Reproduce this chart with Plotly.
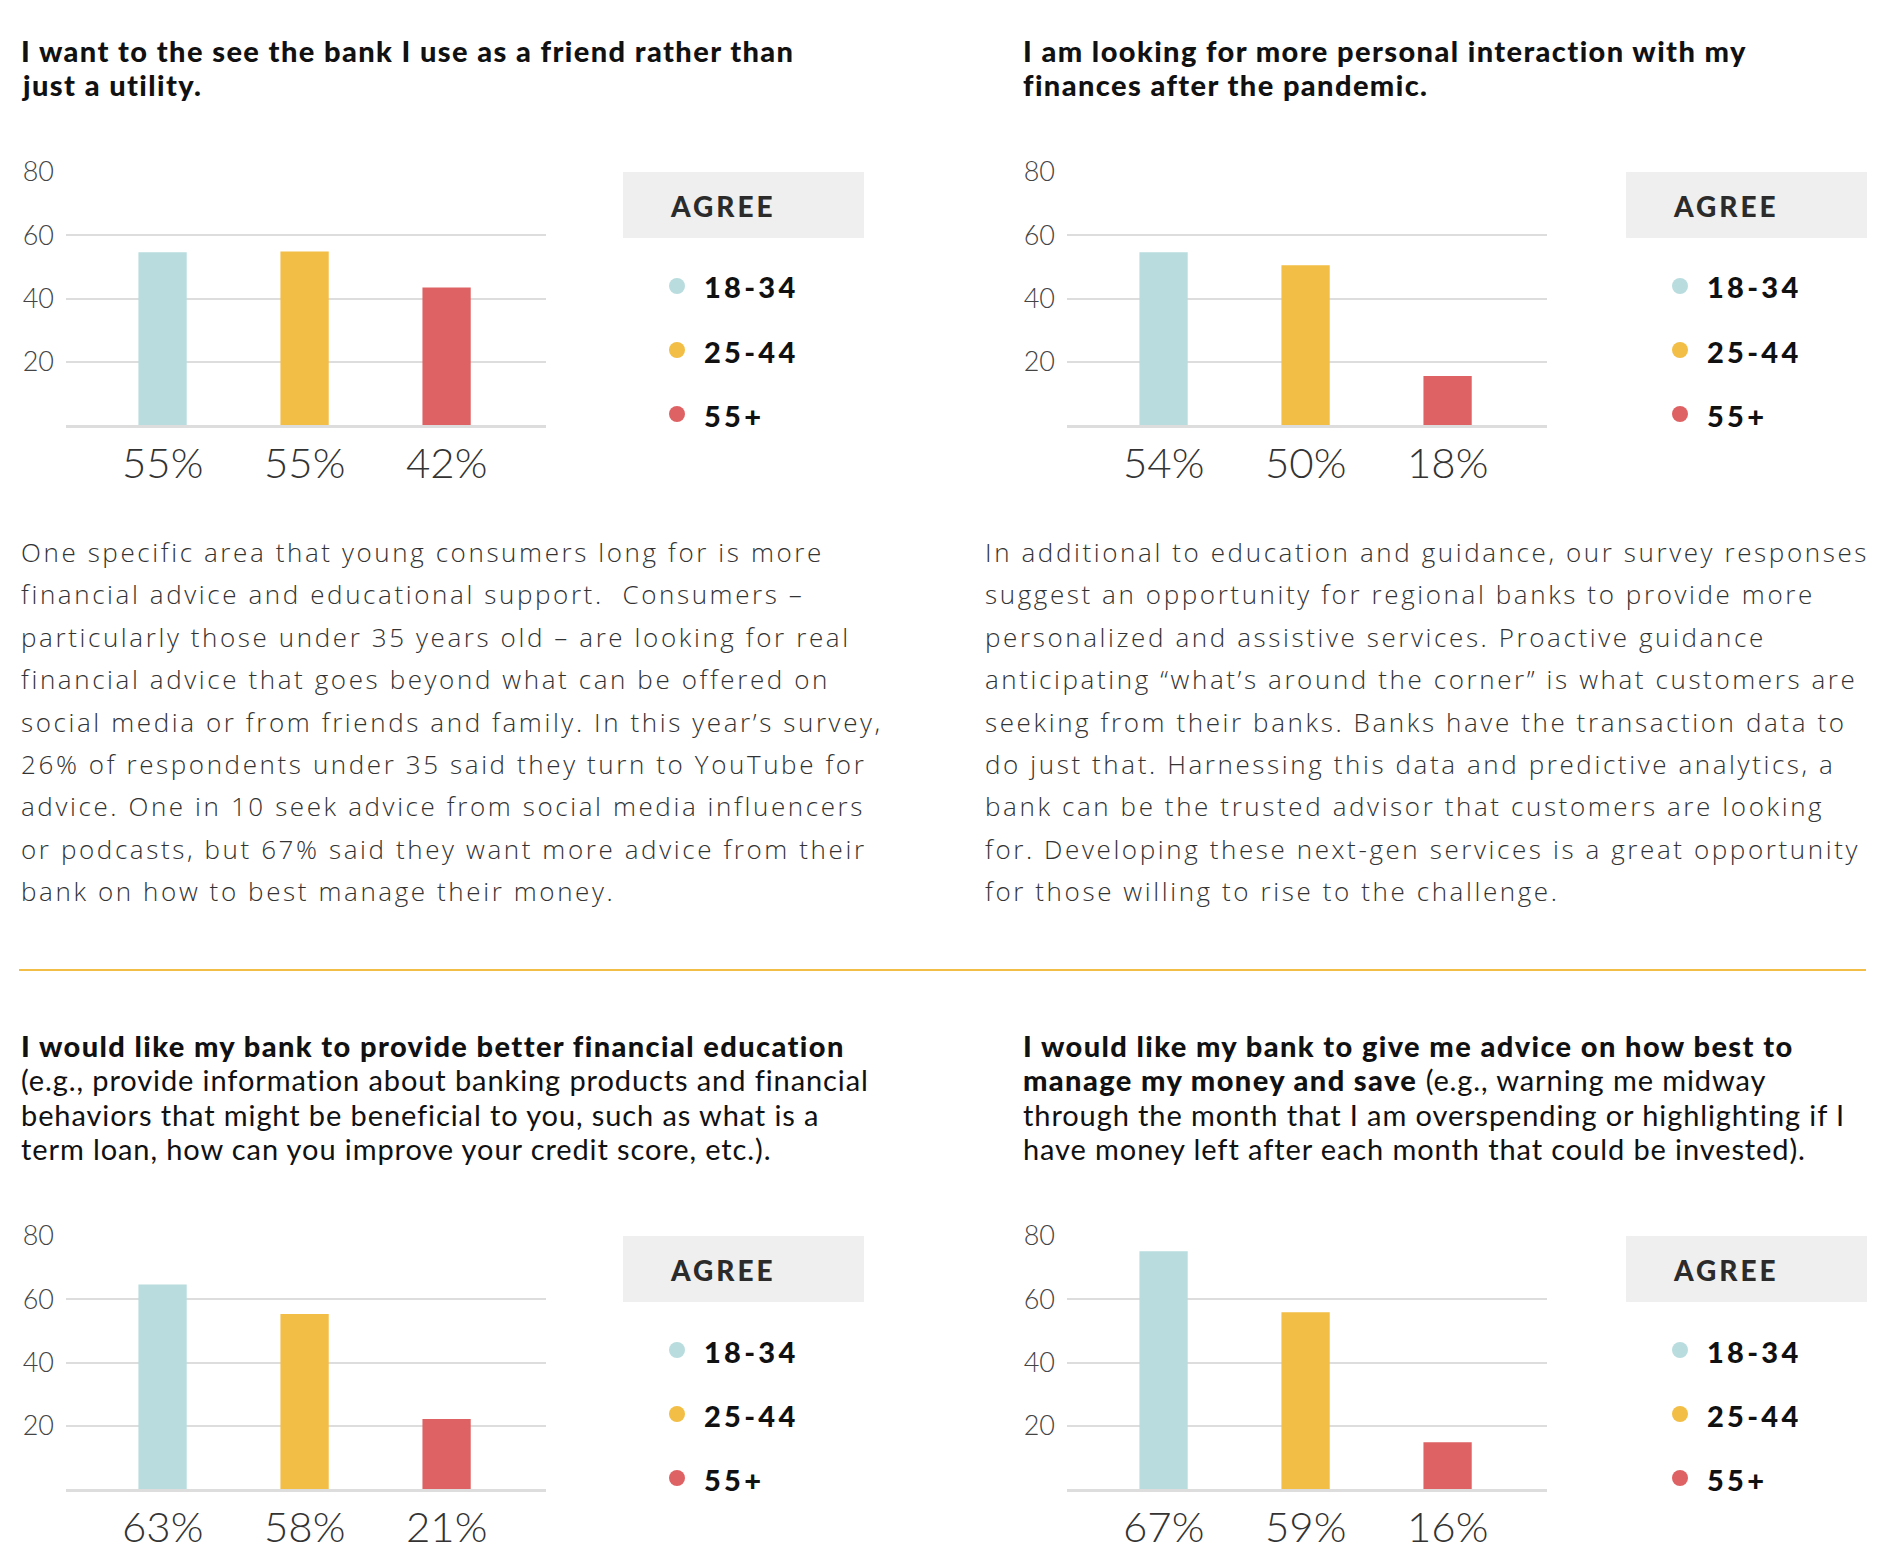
import plotly.graph_objects as go

W, H = 1886, 1568

# ---------------- data ----------------
age_groups = ["18-34", "25-44", "55+"]
group_colors = ["#B9DCDE", "#F2BE45", "#DE6264"]
y_ticks = [20, 40, 60, 80]

friend_values = [54.6, 54.9, 43.5]
friend_labels = ["55%", "55%", "42%"]
personal_values = [54.6, 50.5, 15.5]
personal_labels = ["54%", "50%", "18%"]
education_values = [64.7, 55.3, 22.1]
education_labels = ["63%", "58%", "21%"]
advice_values = [75.2, 55.9, 14.8]
advice_labels = ["67%", "59%", "16%"]

legend_title = "AGREE"

title_friend = ["I want to the see the bank I use as a friend rather than",
                "just a utility."]
title_personal = ["I am looking for more personal interaction with my",
                  "finances after the pandemic."]
title_education_bold = ["I would like my bank to provide better financial education"]
title_education_rest = ["(e.g., provide information about banking products and financial",
                        "behaviors that might be beneficial to you, such as what is a",
                        "term loan, how can you improve your credit score, etc.)."]
title_advice_bold = ["I would like my bank to give me advice on how best to",
                     "manage my money and save"]
title_advice_rest = [" (e.g., warning me midway",
                     "through the month that I am overspending or highlighting if I",
                     "have money left after each month that could be invested)."]

body_left = [
    "One specific area that young consumers long for is more",
    "financial advice and educational support.  Consumers \u2013",
    "particularly those under 35 years old \u2013 are looking for real",
    "financial advice that goes beyond what can be offered on",
    "social media or from friends and family. In this year\u2019s survey,",
    "26% of respondents under 35 said they turn to YouTube for",
    "advice. One in 10 seek advice from social media influencers",
    "or podcasts, but 67% said they want more advice from their",
    "bank on how to best manage their money.",
]
body_right = [
    "In additional to education and guidance, our survey responses",
    "suggest an opportunity for regional banks to provide more",
    "personalized and assistive services. Proactive guidance",
    "anticipating \u201cwhat\u2019s around the corner\u201d is what customers are",
    "seeking from their banks. Banks have the transaction data to",
    "do just that. Harnessing this data and predictive analytics, a",
    "bank can be the trusted advisor that customers are looking",
    "for. Developing these next-gen services is a great opportunity",
    "for those willing to rise to the challenge.",
]

# ---------------- layout helpers ----------------
OFF = 8  # page offset of the figure inside the html body


def X(px):
    return (px - OFF) / W


def Y(py):
    return 1 - (py - OFF) / H


TITLE_FONT = dict(family="Lato", size=29, color="#111111", weight=900)
SUB_FONT = dict(family="Lato", size=29, color="#111111", weight=400)
BODY_FONT = dict(family="Open Sans", size=26, color="#333333", weight=300)
TICK_FONT = dict(family="Lato", size=27, color="#444444", weight=300)
PCT_FONT = dict(family="Lato", size=42, color="#333333", weight=300)
LEG_FONT = dict(family="Lato", size=29, color="#111111", weight=900)
AGREE_FONT = dict(family="Lato", size=28, color="#2b2b2b", weight=900)

BOLD_SPAN = '<span style="font-weight:900;letter-spacing:1.4px">{}</span>'
REG_SPAN = '<span style="letter-spacing:0.9px">{}</span>'

panels = [
    dict(values=friend_values, labels=friend_labels, dx=0, dy=0),
    dict(values=personal_values, labels=personal_labels, dx=1001, dy=0),
    dict(values=education_values, labels=education_labels, dx=0, dy=1064),
    dict(values=advice_values, labels=advice_labels, dx=1001, dy=1064),
]

fig = go.Figure()
annotations = []
shapes = []
layout_axes = {}


def text_line(x_px, y_px, text, font, xanchor="left"):
    annotations.append(dict(
        x=X(x_px), y=Y(y_px), xref="paper", yref="paper", text=text,
        showarrow=False, xanchor=xanchor, yanchor="middle", align="left",
        font=font,
    ))


for i, p in enumerate(panels):
    n = i + 1
    xa = "x" if n == 1 else f"x{n}"
    ya = "y" if n == 1 else f"y{n}"
    fig.add_trace(go.Bar(
        x=list(range(len(age_groups))), y=p["values"],
        width=0.34, marker=dict(color=group_colors, line=dict(width=0)),
        xaxis=xa, yaxis=ya, hoverinfo="skip", showlegend=False,
    ))
    x0, x1 = 66 + p["dx"], 546 + p["dx"]
    ytop, ybot = 172 + p["dy"], 425 + p["dy"]
    layout_axes["xaxis" if n == 1 else f"xaxis{n}"] = dict(
        domain=[X(x0), X(x1)], range=[-0.68, 2.70], anchor=ya,
        showticklabels=False, showgrid=False, zeroline=False, automargin=False,
        showline=True, linecolor="#DDDDDD", linewidth=3, fixedrange=True,
    )
    layout_axes["yaxis" if n == 1 else f"yaxis{n}"] = dict(
        domain=[Y(ybot), Y(ytop)], range=[0, 80], anchor=xa,
        tickvals=y_ticks, showgrid=True, gridcolor="#DDDDDD", gridwidth=2,
        zeroline=False, showline=False, ticks="", ticklabelstandoff=11,
        automargin=False, tickfont=TICK_FONT, fixedrange=True,
    )
    # percentage labels under bars
    for k, lab in enumerate(p["labels"]):
        annotations.append(dict(
            x=k, xref=xa, y=Y(462 + p["dy"]), yref="paper", text=lab,
            showarrow=False, xanchor="center", yanchor="middle", font=PCT_FONT,
        ))
    # legend box
    lx0 = 623 + p["dx"] * 1.002
    shapes.append(dict(
        type="rect", xref="paper", yref="paper",
        x0=X(lx0), x1=X(lx0 + 241), y0=Y(238 + p["dy"]), y1=Y(172 + p["dy"]),
        fillcolor="#EFEFEF", line=dict(width=0), layer="below",
    ))
    text_line(lx0 + 45, 206 + p["dy"],
              f'<span style="letter-spacing:3px">{legend_title}</span>', AGREE_FONT)
    for k, g in enumerate(age_groups):
        cy = 286 + 64 * k + p["dy"]
        cx = lx0 + 54
        shapes.append(dict(
            type="circle", xref="paper", yref="paper",
            x0=X(cx - 8), x1=X(cx + 8), y0=Y(cy + 8), y1=Y(cy - 8),
            fillcolor=group_colors[k], line=dict(width=0),
        ))
        text_line(lx0 + 79, cy + 1,
                  f'<span style="letter-spacing:3.3px">{g}</span>', LEG_FONT)

# titles (top row)
for col_x, lines in ((19, title_friend), (1021, title_personal)):
    for j, line in enumerate(lines):
        text_line(col_x, 50.5 + 34 * j, BOLD_SPAN.format(line), TITLE_FONT)

# titles (bottom row)
edu_lines = ([BOLD_SPAN.format(t) for t in title_education_bold]
             + [REG_SPAN.format(t) for t in title_education_rest])
adv_lines = [BOLD_SPAN.format(title_advice_bold[0]),
             BOLD_SPAN.format(title_advice_bold[1]) + REG_SPAN.format(title_advice_rest[0])]
adv_lines += [REG_SPAN.format(t) for t in title_advice_rest[1:]]
for col_x, lines in ((19, edu_lines), (1021, adv_lines)):
    for j, line in enumerate(lines):
        text_line(col_x, 1045.5 + 34.3 * j, line, SUB_FONT)

# body text
for col_x, lines in ((19, body_left), (983, body_right)):
    for j, line in enumerate(lines):
        text_line(col_x, 552 + 42.4 * j,
                  f'<span style="letter-spacing:2.6px">{line}</span>', BODY_FONT)

# divider
shapes.append(dict(
    type="line", xref="paper", yref="paper",
    x0=X(19), x1=X(1866), y0=Y(970), y1=Y(970),
    line=dict(color="#F2BE45", width=2),
))

fig.update_layout(
    width=W, height=H, margin=dict(l=0, r=0, t=0, b=0),
    paper_bgcolor="white", plot_bgcolor="white", showlegend=False,
    annotations=annotations, shapes=shapes, **layout_axes,
)

fig.write_html("out.html", config={"displayModeBar": False})
